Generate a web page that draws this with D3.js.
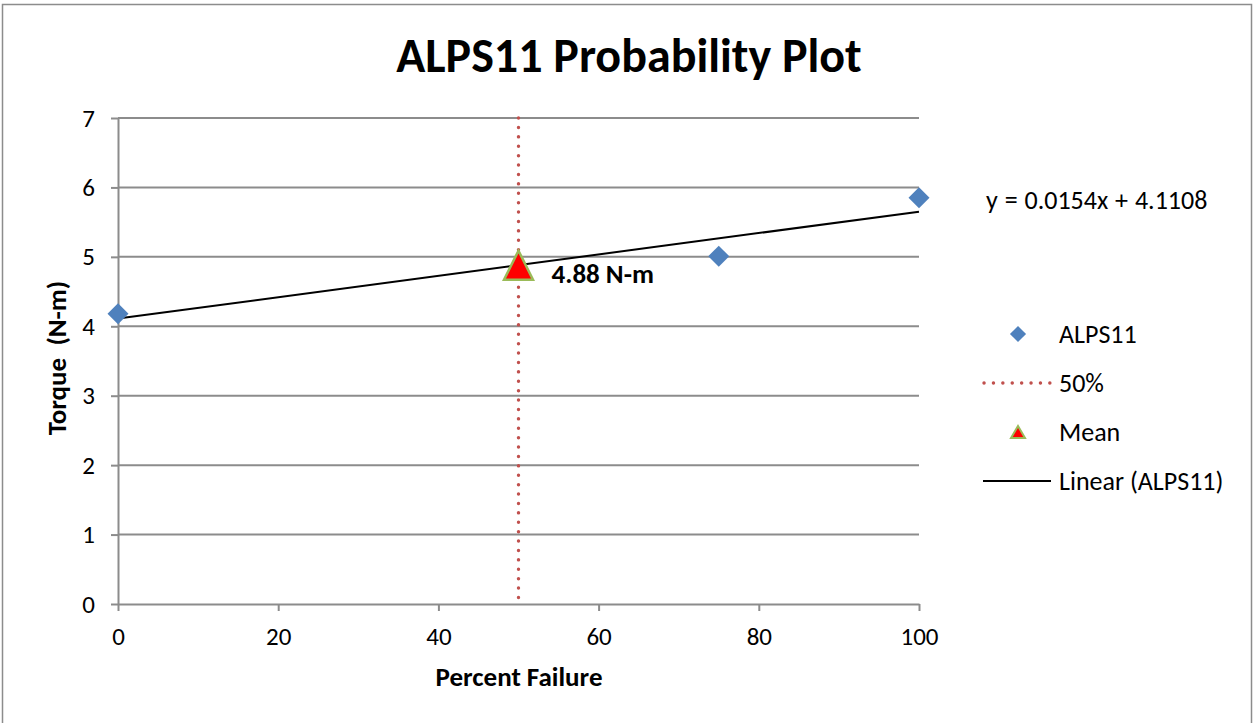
<!DOCTYPE html>
<html>
<head>
<meta charset="utf-8">
<script src="https://cdn.jsdelivr.net/npm/d3@7"></script>
<style>
  html, body { margin: 0; padding: 0; background: #fff; }
  svg { display: block; }
  text { font-family: Carlito, Calibri, Lato, "Open Sans", sans-serif; fill: #000; }
</style>
</head>
<body>
<svg id="chart" width="1254" height="723"></svg>
<script>
// Observed torque at each percent-failure level
const percentFailure = [0, 75, 100];
const torque = [4.18, 5.01, 5.85];

// Mean marker and the 50% reference line
const meanPoint = [50];
const meanTorque = [4.88];
const referenceX = [50];

// Linear trendline coefficients
const trendSlope = [0.0154];
const trendIntercept = [4.1108];

// Axis ticks
const xTicks = [0, 20, 40, 60, 80, 100];
const yTicks = [0, 1, 2, 3, 4, 5, 6, 7];

const legendLabels = ["ALPS11", "50%", "Mean", "Linear (ALPS11)"];

const svg = d3.select("#chart");
const blue = "#4F81BD", red = "#C0504D", green = "#9BBB59", grid = "#8c8c8c";
const fontStack = "Carlito, Calibri, Lato, sans-serif";

// Outer frame
svg.append("rect")
  .attr("x", 2.5).attr("y", 4.5).attr("width", 1249).attr("height", 730)
  .attr("fill", "#fff").attr("stroke", "#8c8c8c").attr("stroke-width", 1.5);

const x = d3.scaleLinear().domain([0, 100]).range([118, 919]);
const y = d3.scaleLinear().domain([0, 7]).range([604, 118]);

// Title
svg.append("text")
  .attr("x", 629).attr("y", 72)
  .attr("text-anchor", "middle")
  .style("font-size", "48px").style("font-weight", "bold")
  .text("ALPS11 Probability Plot");

// Horizontal gridlines
svg.append("g").selectAll("line").data(yTicks.filter(d => d > 0)).join("line")
  .attr("x1", x(0)).attr("x2", x(100))
  .attr("y1", d => y(d)).attr("y2", d => y(d))
  .attr("stroke", grid).attr("stroke-width", 2);

// Y axis
const yAxis = svg.append("g")
  .attr("transform", `translate(${x(0)},0)`)
  .call(d3.axisLeft(y).tickValues(yTicks).tickFormat(d3.format("d"))
    .tickSize(7).tickPadding(16).tickSizeOuter(0));
yAxis.select(".domain").attr("stroke", grid).attr("stroke-width", 2);
yAxis.selectAll(".tick line").attr("stroke", grid).attr("stroke-width", 2);
yAxis.selectAll(".tick text").style("font-size", "25px").style("font-family", fontStack).attr("fill", "#000");

// X axis
const xAxis = svg.append("g")
  .attr("transform", `translate(0,${y(0)})`)
  .call(d3.axisBottom(x).tickValues(xTicks).tickFormat(d3.format("d"))
    .tickSize(7).tickPadding(16).tickSizeOuter(0));
xAxis.select(".domain").attr("stroke", grid).attr("stroke-width", 2);
xAxis.selectAll(".tick line").attr("stroke", grid).attr("stroke-width", 2);
xAxis.selectAll(".tick text").style("font-size", "25px").style("font-family", fontStack).attr("fill", "#000");

// Axis titles
svg.append("text")
  .attr("x", 519).attr("y", 686)
  .attr("text-anchor", "middle")
  .style("font-size", "27px").style("font-weight", "bold")
  .text("Percent Failure");

svg.append("text")
  .attr("transform", "translate(66,358) rotate(-90)")
  .attr("text-anchor", "middle")
  .style("font-size", "27px").style("font-weight", "bold")
  .style("white-space", "pre")
  .text("Torque  (N-m)");

// 50% reference line
svg.append("g").selectAll("line").data(referenceX).join("line")
  .attr("x1", d => x(d)).attr("x2", d => x(d))
  .attr("y1", y(7)).attr("y2", y(0))
  .attr("stroke", red).attr("stroke-width", 3.4)
  .attr("stroke-linecap", "round")
  .attr("stroke-dasharray", "0.1 9.3");

// Linear trendline
const trendData = [0, 100].map(v => [v, trendSlope[0] * v + trendIntercept[0]]);
svg.append("path")
  .datum(trendData)
  .attr("d", d3.line().x(d => x(d[0])).y(d => y(d[1])))
  .attr("fill", "none").attr("stroke", "#000").attr("stroke-width", 2);

// Data points (diamonds)
const diamond = d3.symbol().type(d3.symbolSquare).size(220);
svg.append("g").selectAll("path").data(percentFailure.map((p, i) => [p, torque[i]])).join("path")
  .attr("d", diamond)
  .attr("transform", d => `translate(${x(d[0])},${y(d[1])}) rotate(45)`)
  .attr("fill", blue);

// Mean marker (triangle)
const tri = (cx, cy, w, h) => `M${cx},${cy - h / 2}L${cx + w / 2},${cy + h / 2}L${cx - w / 2},${cy + h / 2}Z`;
svg.append("g").selectAll("path").data(meanPoint.map((p, i) => [p, meanTorque[i]])).join("path")
  .attr("d", d => tri(x(d[0]), y(d[1]), 29, 29))
  .attr("fill", "#FF0000").attr("stroke", green).attr("stroke-width", 2.5)
  .attr("stroke-linejoin", "miter");

// Mean value label
svg.append("g").selectAll("text").data(meanPoint.map((p, i) => [p, meanTorque[i]])).join("text")
  .attr("x", d => x(d[0]) + 33).attr("y", d => y(d[1]) + 18)
  .style("font-size", "27px").style("font-weight", "bold")
  .text(d => `${d[1].toFixed(2)} N-m`);

// Trendline equation
svg.append("text")
  .attr("x", 986).attr("y", 209)
  .style("font-size", "26px").style("word-spacing", "1px")
  .text(`y = ${trendSlope[0]}x + ${trendIntercept[0]}`);

// Legend
const legendY = [334, 383, 432, 481];
const lg = svg.append("g");
lg.append("path")
  .attr("d", d3.symbol().type(d3.symbolSquare).size(130))
  .attr("transform", `translate(1018,${legendY[0]}) rotate(45)`)
  .attr("fill", blue);
lg.append("line")
  .attr("x1", 984).attr("x2", 1050).attr("y1", legendY[1]).attr("y2", legendY[1])
  .attr("stroke", red).attr("stroke-width", 3.4)
  .attr("stroke-linecap", "round").attr("stroke-dasharray", "0.1 9.3");
lg.append("path")
  .attr("d", tri(1018, legendY[2], 14, 12))
  .attr("fill", "#FF0000").attr("stroke", green).attr("stroke-width", 2);
lg.append("line")
  .attr("x1", 983).attr("x2", 1051).attr("y1", legendY[3]).attr("y2", legendY[3])
  .attr("stroke", "#000").attr("stroke-width", 2);
lg.selectAll("text").data(legendLabels).join("text")
  .attr("x", 1059).attr("y", (d, i) => legendY[i] + 9)
  .style("font-size", "26px")
  .text(d => d);
</script>
</body>
</html>
